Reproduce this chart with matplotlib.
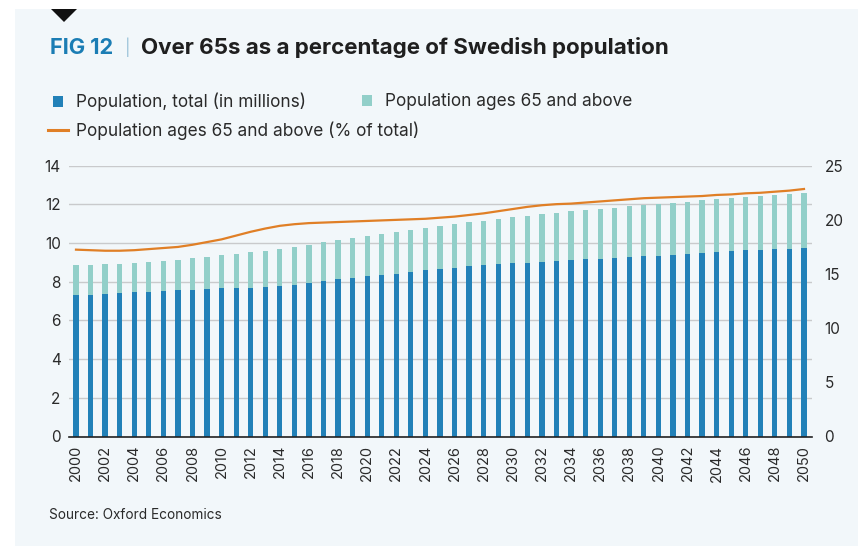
import matplotlib
matplotlib.use("Agg")
import matplotlib.pyplot as plt
from matplotlib.patches import Patch, Polygon
from matplotlib.lines import Line2D
import numpy as np

plt.rcParams['font.family'] = ['Inter', 'DejaVu Sans']

years = np.arange(2000, 2051)

# population (millions): lower dark segment and the over-65 segment stacked on it
pop_total = [7.33, 7.34, 7.38, 7.40, 7.45, 7.45, 7.52, 7.56,
             7.56, 7.61, 7.66, 7.66, 7.70, 7.71, 7.76, 7.85, 7.95,
             8.04, 8.13, 8.20, 8.28, 8.35, 8.42, 8.51, 8.59, 8.66,
             8.73, 8.82, 8.85, 8.92, 8.97, 8.99, 9.02, 9.07,
             9.11, 9.16, 9.19, 9.23, 9.28, 9.32, 9.35, 9.40, 9.45,
             9.50, 9.55, 9.60, 9.63, 9.66, 9.68, 9.71, 9.72]
pop_65 = [1.52, 1.54, 1.53, 1.54, 1.53, 1.56, 1.56, 1.57,
          1.67, 1.69, 1.72, 1.79, 1.82, 1.90, 1.95, 1.96, 1.97,
          2.02, 2.05, 2.06, 2.09, 2.14, 2.15, 2.18, 2.19, 2.23,
          2.26, 2.25, 2.31, 2.33, 2.36, 2.43, 2.47, 2.49,
          2.53, 2.54, 2.57, 2.60, 2.62, 2.65, 2.67, 2.69, 2.69,
          2.71, 2.73, 2.75, 2.77, 2.79, 2.82, 2.84, 2.89]
# share of population aged 65+ (%)
pct_65 = [17.25, 17.2, 17.15, 17.15, 17.2, 17.3, 17.4, 17.5,
          17.7, 17.95, 18.2, 18.55, 18.9, 19.2, 19.45, 19.6, 19.7,
          19.75, 19.8, 19.85, 19.9, 19.95, 20.0, 20.05, 20.1, 20.2,
          20.3, 20.45, 20.6, 20.8, 21.0, 21.2, 21.35, 21.45,
          21.5, 21.6, 21.7, 21.8, 21.9, 22.0, 22.05, 22.1, 22.15,
          22.2, 22.3, 22.35, 22.45, 22.5, 22.6, 22.7, 22.85]

c_dark = '#2281b8'
c_teal = '#92cfc9'
c_line = '#e07f26'
c_bg = '#f2f7fa'
c_grid = '#c9cacc'
c_text = '#2a2a2a'

W, H = 858, 546
fig = plt.figure(figsize=(W / 100, H / 100), dpi=100)
fig.patch.set_facecolor('white')

# panel background with white margin at top/left
fig.patches.append(plt.Rectangle((15 / W, 0), 1, 1 - 9 / H, transform=fig.transFigure,
                                 facecolor=c_bg, edgecolor='none', zorder=-10))
# small black marker at top
tri = Polygon([[51 / W, 1 - 9 / H], [77 / W, 1 - 9 / H], [64 / W, 1 - 22 / H]],
              closed=True, transform=fig.transFigure, facecolor='#111111', edgecolor='none',
              zorder=-5)
fig.patches.append(tri)

ax = fig.add_axes([69 / W, 1 - 436.5 / H, (812 - 69) / W, (436.5 - 165.7) / H])
ax.set_facecolor('none')
ax.bar(years, pop_total, width=0.36, color=c_dark, zorder=3)
ax.bar(years, pop_65, width=0.36, bottom=pop_total, color=c_teal, zorder=3)
ax.set_ylim(0, 14)
ax.set_yticks(range(0, 15, 2))
ax.set_xlim(1999.52, 2050.55)
ax.set_xticks(years[::2])
ax.set_xticklabels([str(y) for y in years[::2]], rotation=90, fontsize=10.5, color=c_text)
ax.grid(axis='y', color=c_grid, linewidth=1, zorder=0)
for s in ['top', 'right', 'left']:
    ax.spines[s].set_visible(False)
ax.spines['bottom'].set_color('#222222')
ax.spines['bottom'].set_linewidth(1.2)
ax.spines['bottom'].set_zorder(5)
ax.tick_params(axis='y', length=0, labelsize=11, colors=c_text, pad=6)
ax.tick_params(axis='x', length=0, labelsize=10.5, colors=c_text, pad=6)

ax2 = ax.twinx()
ax2.plot(years, pct_65, color=c_line, linewidth=1.6, zorder=4)
ax2.set_ylim(0, 25)
ax2.set_yticks(range(0, 26, 5))
for s in ['top', 'right', 'left', 'bottom']:
    ax2.spines[s].set_visible(False)
ax2.tick_params(axis='y', length=0, labelsize=11, colors=c_text, pad=9)

# title
fig.text(50 / W, 1 - 48 / H, 'FIG 12', fontsize=15.7, fontweight='bold', color='#1b7db4', va='center')
fig.text(125 / W, 1 - 47 / H, '|', fontsize=12, color='#9cc3da', va='center')
fig.text(141 / W, 1 - 48 / H, 'Over 65s as a percentage of Swedish population',
         fontsize=16.1, fontweight='bold', color='#1f1f1f', va='center')

# legend entries
lkw = dict(frameon=False, fontsize=12.4, borderpad=0, borderaxespad=0, labelcolor=c_text)
h_dark = Patch(facecolor=c_dark, edgecolor='none', label='Population, total (in millions)')
h_teal = Patch(facecolor=c_teal, edgecolor='none', label='Population ages 65 and above')
h_line = Line2D([], [], color=c_line, linewidth=2.2, label='Population ages 65 and above (% of total)')
fig.legend(handles=[h_dark], loc='center left', bbox_to_anchor=(53 / W, 1 - 102 / H),
           handlelength=0.58, handleheight=0.58, handletextpad=0.74, **lkw)
fig.legend(handles=[h_teal], loc='center left', bbox_to_anchor=(362 / W, 1 - 102 / H),
           handlelength=0.58, handleheight=0.58, handletextpad=0.74, **lkw)
fig.legend(handles=[h_line], loc='center left', bbox_to_anchor=(48 / W, 1 - 131 / H),
           handlelength=1.16, handletextpad=0.46, **lkw)

fig.text(49 / W, 1 - 515 / H, 'Source: Oxford Economics', fontsize=9.8, color=c_text, va='center')

fig.savefig('out.png', dpi=100)
